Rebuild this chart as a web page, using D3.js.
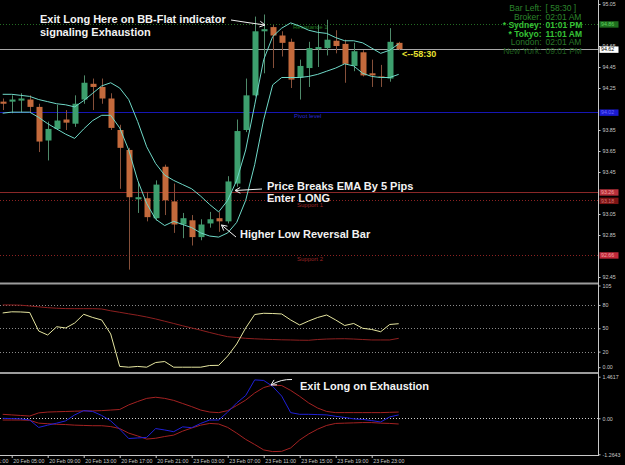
<!DOCTYPE html>
<html><head><meta charset="utf-8">
<script src="https://cdn.jsdelivr.net/npm/d3@7"></script>
<style>html,body{margin:0;padding:0;background:#000;overflow:hidden}text{font-family:"Liberation Sans",Arial,sans-serif}</style>
</head><body><svg id="c" width="625" height="465"></svg>
<script>
// ---------- DATA ----------
const times = ["20 Feb 04:00","20 Feb 05:00","20 Feb 06:00","20 Feb 07:00","20 Feb 08:00","20 Feb 09:00","20 Feb 10:00","20 Feb 11:00","20 Feb 12:00","20 Feb 13:00","20 Feb 14:00","20 Feb 15:00","20 Feb 16:00","20 Feb 17:00","20 Feb 18:00","20 Feb 19:00","20 Feb 20:00","20 Feb 21:00","20 Feb 22:00","20 Feb 23:00","23 Feb 02:00","23 Feb 03:00","23 Feb 04:00","23 Feb 05:00","23 Feb 06:00","23 Feb 07:00","23 Feb 08:00","23 Feb 09:00","23 Feb 10:00","23 Feb 11:00","23 Feb 12:00","23 Feb 13:00","23 Feb 14:00","23 Feb 15:00","23 Feb 16:00","23 Feb 17:00","23 Feb 18:00","23 Feb 19:00","23 Feb 20:00","23 Feb 21:00","23 Feb 22:00","23 Feb 23:00","24 Feb 00:00","24 Feb 01:00","24 Feb 02:00"];
const open  = [94.12,94.12,94.13,94.14,94.07,93.75,93.86,93.95,93.91,94.14,94.29,94.26,94.15,93.85,93.66,93.19,93.20,93.01,93.50,93.17,92.95,92.99,92.83,92.96,93.01,92.98,93.34,93.85,94.18,94.79,94.83,94.75,94.69,94.35,94.44,94.62,94.63,94.70,94.67,94.46,94.59,94.39,94.36,94.34,94.68];
const high  = [94.15,94.18,94.20,94.18,94.10,93.93,94.09,94.04,94.18,94.37,94.34,94.34,94.20,93.90,93.68,93.35,93.26,93.37,93.52,93.34,93.06,93.04,93.00,93.07,93.07,93.41,93.95,94.34,94.93,94.95,94.85,94.79,94.72,94.52,94.69,94.85,94.90,94.80,94.71,94.68,94.61,94.52,94.47,94.82,94.69];
const low   = [94.04,94.01,94.02,94.02,93.64,93.56,93.85,93.85,93.88,94.10,94.04,94.10,93.85,93.29,92.52,93.06,92.98,92.99,93.04,92.87,92.82,92.75,92.80,92.92,92.88,92.96,93.31,93.83,94.17,94.39,94.44,94.55,94.25,94.14,94.26,94.45,94.56,94.58,94.30,94.41,94.36,94.26,94.26,94.31,94.61];
const close = [94.10,94.14,94.15,94.07,93.74,93.86,93.94,93.92,94.10,94.30,94.26,94.15,93.87,93.68,93.21,93.21,93.02,93.33,93.18,92.95,93.01,92.83,92.95,93.00,92.98,93.36,93.84,94.18,94.79,94.81,94.75,94.68,94.33,94.46,94.63,94.64,94.71,94.65,94.48,94.60,94.37,94.37,94.35,94.69,94.62];
const bandUpper = [94.19,94.19,94.18,94.17,94.14,94.12,94.10,94.09,94.07,94.13,94.20,94.27,94.30,94.25,94.14,93.93,93.69,93.53,93.42,93.37,93.33,93.29,93.22,93.14,93.07,93.18,93.37,93.66,94.09,94.52,94.74,94.82,94.87,94.84,94.80,94.78,94.77,94.73,94.70,94.70,94.68,94.63,94.58,94.61,94.67];
const bandLower = [94.01,94.02,94.02,94.02,93.97,93.91,93.86,93.81,93.77,93.86,93.94,93.99,93.99,93.87,93.66,93.37,93.15,93.00,92.94,92.98,92.95,92.92,92.87,92.84,92.83,92.87,92.97,93.18,93.52,93.95,94.28,94.35,94.35,94.35,94.36,94.38,94.41,94.44,94.48,94.46,94.39,94.36,94.35,94.35,94.38];
const levelNames  = ["Resistance 1","Pivot level","Support 1","Support 2"];
const levelValues = [94.86, 94.02, 93.18, 92.66];
const refLevel = 93.26;
const priceTicks = [95.05,94.65,94.45,94.25,93.85,93.65,93.45,93.05,92.85,92.45];
// oscillator panel
const oscMain   = [69.7,71.2,71.0,70.3,46.5,41.4,52.0,50.4,56.8,68.0,63.9,60.7,42.7,1.0,0.0,1.0,0.0,6.0,7.3,0.0,0.0,0.0,0.0,2.2,2.4,14.4,29.8,50.4,67.7,69.3,69.0,68.4,60.7,54.2,59.4,63.9,67.1,60.7,53.6,56.2,50.0,48.5,45.6,54.9,55.9];
const oscSignal = [80.0,80.0,79.7,78.7,77.6,76.5,75.8,75.3,75.2,75.2,75.2,74.8,72.5,70.6,68.6,66.7,64.5,62.0,59.1,56.2,53.2,50.4,47.6,44.6,41.8,39.2,38.2,37.1,36.5,36.0,35.6,35.2,35.0,34.7,34.6,35.6,36.2,36.5,36.6,36.2,35.6,35.0,35.0,35.0,37.1];
const oscTicks = [105,80,50,20,0];
const oscLevels = [80,50,20];
// exhaustion panel
const exhMain  = [0.00,-0.01,-0.02,-0.06,-0.32,-0.24,-0.17,-0.09,0.12,0.27,0.24,0.10,-0.09,-0.38,-0.71,-0.69,-0.67,-0.36,-0.41,-0.47,-0.30,-0.33,-0.18,-0.06,-0.06,0.22,0.54,0.80,1.35,1.33,1.12,0.78,0.20,0.14,0.14,0.13,0.12,0.07,0.03,-0.02,-0.04,-0.08,-0.13,0.05,0.12];
const exhUpper = [0.14,0.12,0.10,0.08,0.19,0.22,0.23,0.24,0.25,0.26,0.26,0.27,0.29,0.31,0.47,0.59,0.70,0.74,0.70,0.63,0.52,0.41,0.29,0.22,0.20,0.27,0.45,0.64,0.89,1.08,1.17,1.15,0.98,0.77,0.54,0.36,0.24,0.20,0.20,0.20,0.20,0.20,0.20,0.21,0.22];
const exhLower = [-0.06,-0.06,-0.06,-0.07,-0.17,-0.19,-0.21,-0.22,-0.24,-0.25,-0.26,-0.26,-0.29,-0.36,-0.52,-0.62,-0.73,-0.70,-0.64,-0.59,-0.45,-0.34,-0.24,-0.18,-0.20,-0.32,-0.52,-0.74,-0.92,-1.11,-1.17,-1.16,-1.04,-0.76,-0.55,-0.38,-0.25,-0.18,-0.17,-0.16,-0.15,-0.15,-0.17,-0.18,-0.20];
const exhTicks = [1.4617, 0, -1.2643];
const timeTickLabels = ["20 Feb 01:00","20 Feb 05:00","20 Feb 09:00","20 Feb 13:00","20 Feb 17:00","20 Feb 21:00","23 Feb 03:00","23 Feb 07:00","23 Feb 11:00","23 Feb 15:00","23 Feb 19:00","23 Feb 23:00"];
const infoLabels = ["Bar Left:","Broker:","* Sydney:","* Tokyo:","London:","New York:"];
const infoValues = ["[ 58:30 ]","02:01 AM","01:01 PM","11:01 AM","02:01 AM","09:01 PM"];
const barLeft = "58:30";

// ---------- LAYOUT ----------
const W = 625, H = 465, AX = 598.5;
const svg = d3.select("#c");
svg.append("rect").attr("width", W).attr("height", H).attr("fill", "#000");

const idx = d3.range(times.length);
const x = d3.scaleLinear().domain([0, 44]).range([2.7, 398.7]);
const yP = d3.scaleLinear().domain([92.45, 95.05]).range([277, 4]);
const yO = d3.scaleLinear().domain([0, 105]).range([367.2, 285.5]);
const yM = d3.scaleLinear().domain([-1.2643, 1.4617]).range([454.3, 376.7]);

const lvlColors = ["#236b23", "#1616b4", "#8c2222", "#8c2222"];
const lvlTextColors = ["#1f7a1f", "#2a2ad0", "#9a2424", "#9a2424"];
const lvlBoxColors = ["#1e6e1e", "#1a1ad0", "#7d1414", "#c0283a"];
const lvlDash = ["1,2", null, "1,2", "1,2"];

// level lines (behind candles)
const gL = svg.append("g");
levelValues.forEach((v, k) => {
  gL.append("line").attr("x1", 0).attr("x2", AX).attr("y1", Math.round(yP(v)) + 0.5).attr("y2", Math.round(yP(v)) + 0.5)
    .attr("stroke", lvlColors[k]).attr("stroke-width", 1).attr("stroke-dasharray", lvlDash[k]);
});
gL.append("line").attr("x1", 0).attr("x2", AX).attr("y1", Math.round(yP(refLevel)) + 0.5).attr("y2", Math.round(yP(refLevel)) + 0.5)
  .attr("stroke", "#8a2828").attr("stroke-width", 1);
gL.append("line").attr("x1", 0).attr("x2", AX).attr("y1", Math.round(yP(close[44])) + 0.5).attr("y2", Math.round(yP(close[44])) + 0.5)
  .attr("stroke", "#a8a8a8").attr("stroke-width", 1);

// level text labels
const lvlLabelX = [293, 294, 297, 297];
const lvlLabelDy = [5, 6, 7, 6];
levelValues.forEach((v, k) => {
  svg.append("text").attr("x", lvlLabelX[k]).attr("y", yP(v) + lvlLabelDy[k])
    .attr("font-size", 6).attr("fill", lvlTextColors[k]).text(levelNames[k]);
});

// candles
const gC = svg.append("g");
const up = i => close[i] >= open[i];
gC.selectAll("line.w").data(idx).join("line")
  .attr("x1", i => Math.round(x(i)) + 0.5).attr("x2", i => Math.round(x(i)) + 0.5)
  .attr("y1", i => yP(high[i])).attr("y2", i => yP(low[i]))
  .attr("stroke", i => up(i) ? "#4f8a6a" : "#86503a").attr("stroke-width", 1);
gC.selectAll("rect.b").data(idx).join("rect")
  .attr("x", i => Math.round(x(i)) - 2.5).attr("width", 6)
  .attr("y", i => yP(Math.max(open[i], close[i])))
  .attr("height", i => Math.max(1, Math.abs(yP(open[i]) - yP(close[i]))))
  .attr("fill", i => up(i) ? "#3d9f6e" : "#c46a3c");

// bands
const bandLine = arr => d3.line().x(i => x(i)).y(i => yP(arr[i]))(idx);
svg.append("path").attr("d", bandLine(bandUpper)).attr("fill", "none").attr("stroke", "#6fd9c8").attr("stroke-width", 1);
svg.append("path").attr("d", bandLine(bandLower)).attr("fill", "none").attr("stroke", "#6fd9c8").attr("stroke-width", 1);

// ---------- panel frames ----------
svg.append("rect").attr("x", 0).attr("y", 282.5).attr("width", AX).attr("height", 2).attr("fill", "#9c9c9c");
svg.append("rect").attr("x", 0).attr("y", 372).attr("width", AX).attr("height", 2).attr("fill", "#9c9c9c");
svg.append("line").attr("x1", 0).attr("x2", AX).attr("y1", 455.5).attr("y2", 455.5).attr("stroke", "#c8c8c8");
svg.append("line").attr("x1", AX).attr("x2", AX).attr("y1", 0).attr("y2", 456).attr("stroke", "#c8c8c8");

// oscillator panel
oscLevels.forEach(v => {
  svg.append("line").attr("x1", 0).attr("x2", AX - 2).attr("y1", Math.round(yO(v)) + 0.5).attr("y2", Math.round(yO(v)) + 0.5)
    .attr("stroke", "#8a8a8a").attr("stroke-dasharray", "1,2");
});
svg.append("path").attr("d", d3.line().x(i => x(i)).y(i => yO(oscSignal[i]))(idx))
  .attr("fill", "none").attr("stroke", "#8e2020").attr("stroke-width", 1);
svg.append("path").attr("d", d3.line().x(i => x(i)).y(i => yO(oscMain[i]))(idx))
  .attr("fill", "none").attr("stroke", "#e6e6a0").attr("stroke-width", 1);

// exhaustion panel
svg.append("line").attr("x1", 0).attr("x2", AX).attr("y1", Math.round(yM(0)) + 0.5).attr("y2", Math.round(yM(0)) + 0.5)
  .attr("stroke", "#d0d0d0").attr("stroke-dasharray", "1,2");
[exhUpper, exhLower].forEach(arr => {
  svg.append("path").attr("d", d3.line().x(i => x(i)).y(i => yM(arr[i]))(idx))
    .attr("fill", "none").attr("stroke", "#a42222").attr("stroke-width", 1);
});
svg.append("path").attr("d", d3.line().x(i => x(i)).y(i => yM(exhMain[i]))(idx))
  .attr("fill", "none").attr("stroke", "#2020d8").attr("stroke-width", 1);

// ---------- axes ----------
function styleAxis(g) {
  g.select(".domain").remove();
  g.selectAll("line").attr("stroke", "#c8c8c8");
  g.selectAll("text").attr("fill", "#c8c8c8").attr("font-size", 5.3).attr("font-family", "Liberation Sans, Arial, sans-serif");
}
svg.append("g").attr("transform", `translate(${AX},0)`)
  .call(d3.axisRight(yP).tickValues(priceTicks).tickFormat(d3.format(".2f")).tickSize(2).tickPadding(2))
  .call(styleAxis)
  .call(g => g.selectAll("text").attr("dy", "0.25em"));
svg.append("g").attr("transform", `translate(${AX},0)`)
  .call(d3.axisRight(yO).tickValues(oscTicks).tickFormat(d => d === 0 ? "0.00" : d).tickSize(2).tickPadding(2))
  .call(styleAxis);
svg.append("g").attr("transform", `translate(${AX},0)`)
  .call(d3.axisRight(yM).tickValues(exhTicks).tickFormat(d => d === 0 ? "0.00" : String(d)).tickSize(2).tickPadding(2))
  .call(styleAxis);
const tickIdx = timeTickLabels.map((s, k) => -3 + 4 * k);
svg.append("g").attr("transform", "translate(0,456)")
  .call(d3.axisBottom(x).tickValues(tickIdx).tickFormat((d, k) => timeTickLabels[k]).tickSize(2).tickPadding(1))
  .call(styleAxis)
  .call(g => g.selectAll("text").attr("text-anchor", "start").attr("dx", 1));

// price boxes on axis
const boxes = [
  {v: levelValues[0], bg: lvlBoxColors[0], fg: "#5fd05f"},
  {v: close[44], bg: "#ffffff", fg: "#000000"},
  {v: levelValues[1], bg: lvlBoxColors[1], fg: "#6a6aff"},
  {v: refLevel, bg: "#b8303a", fg: "#f0a0a0"},
  {v: levelValues[2], bg: lvlBoxColors[2], fg: "#d07070"},
  {v: levelValues[3], bg: lvlBoxColors[3], fg: "#f0a0a0"}
];
boxes.forEach(b => {
  const yy = yP(b.v);
  svg.append("rect").attr("x", AX + 1).attr("y", yy - 2.7).attr("width", 19).attr("height", 6.4).attr("fill", b.bg);
  svg.append("text").attr("x", AX + 2.5).attr("y", yy + 2.3).attr("font-size", 5.3).attr("fill", b.fg).text(d3.format(".2f")(b.v));
});

// ---------- info block ----------
const infoColors = ["#2c852c", "#2c852c", "#36c236", "#36c236", "#2a7a2a", "#1f5c1f"];
infoLabels.forEach((s, k) => {
  const yy = 11.3 + k * 8.5;
  svg.append("text").attr("x", 541.5).attr("y", yy).attr("text-anchor", "end").attr("font-size", 8.5)
    .attr("fill", infoColors[k]).attr("font-weight", (k === 2 || k === 3) ? "bold" : "normal").text(s);
  svg.append("text").attr("x", 545.5).attr("y", yy).attr("font-size", 8.5)
    .attr("fill", infoColors[k]).attr("font-weight", (k === 2 || k === 3) ? "bold" : "normal").text(infoValues[k]);
});
svg.append("text").attr("x", 402).attr("y", 57).attr("font-size", 9).attr("font-weight", "bold")
  .attr("fill", "#e8e030").text("<--" + barLeft);

// ---------- annotations ----------
const ann = svg.append("g").attr("fill", "#f2f2f2").attr("font-size", 11).attr("font-weight", "bold");
ann.append("text").attr("x", 40).attr("y", 23).text("Exit Long Here on BB-Flat indicator");
ann.append("text").attr("x", 40).attr("y", 36).text("signaling Exhaustion");
ann.append("text").attr("x", 267).attr("y", 190).text("Price Breaks EMA By 5 Pips");
ann.append("text").attr("x", 267).attr("y", 201.5).text("Enter LONG");
ann.append("text").attr("x", 240).attr("y", 238).text("Higher Low Reversal Bar");
ann.append("text").attr("x", 300).attr("y", 389.5).text("Exit Long on Exhaustion");

function arrow(pathD, tip, angDeg) {
  const g = svg.append("g").attr("fill", "none").attr("stroke", "#f2f2f2").attr("stroke-width", 1);
  g.append("path").attr("d", pathD);
  const a = angDeg * Math.PI / 180, L = 6;
  [a + 0.5, a - 0.5].forEach(b => {
    g.append("line").attr("x1", tip[0]).attr("y1", tip[1])
      .attr("x2", tip[0] + L * Math.cos(b)).attr("y2", tip[1] + L * Math.sin(b));
  });
}
arrow("M231,20 Q250,23 265,25", [265, 25], 190);
arrow("M262,189 L235,190.5", [235, 190.5], -2);
arrow("M236,237 L221.5,225", [221.5, 225], 40);
arrow("M292,379.5 Q281,379 271,385", [271, 385], -30);
</script></body></html>
